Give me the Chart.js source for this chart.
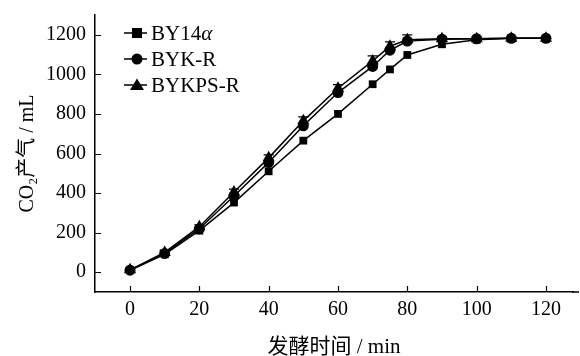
<!DOCTYPE html>
<html>
<head>
<meta charset="utf-8">
<script src="https://cdn.jsdelivr.net/npm/chart.js@4"></script>
<style>
  html, body { margin: 0; padding: 0; background: #fff; }
  #wrap { width: 580px; height: 356px; }
</style>
</head>
<body>
<div id="wrap"><canvas id="co2Chart" width="580" height="356"></canvas></div>
<script>
// 发酵时间 (min)
const tiempos = [0, 10, 20, 30, 40, 50, 60, 70, 75, 80, 90, 100, 110, 120];
const by14a   = [10, 90, 210, 352, 510, 665, 800, 950, 1025, 1098, 1152, 1175, 1182, 1182];
const bykR    = [10, 95, 220, 385, 555, 740, 908, 1040, 1122, 1168, 1178, 1180, 1182, 1182];
const bykpsR  = [12, 100, 230, 405, 578, 765, 930, 1068, 1142, 1175, 1180, 1180, 1182, 1182];
// error bars (±)
const errBykpsR = [0, 12, 10, 15, 15, 20, 18, 25, 22, 25, 10, 8, 8, 8];
const xTicks = [0, 20, 40, 60, 80, 100, 120];
const yTicks = [0, 200, 400, 600, 800, 1000, 1200];
const nombres = ['BY14\u03b1', 'BYK-R', 'BYKPS-R'];
const estilos = ['rect', 'circle', 'triangle'];

const fuente = '"Liberation Serif", "Times New Roman", "Noto Sans CJK SC", serif';

function puntos(arr) {
    return tiempos.map((t, i) => ({ x: t, y: arr[i] }));
}

const marcasPlugin = {
    id: 'marcas',
    afterDraw(chart) {
        const ctx = chart.ctx;
        const xs = chart.scales.x, ys = chart.scales.y;
        const area = chart.chartArea;
        ctx.save();
        ctx.strokeStyle = '#000';

        // axis line runs to the right edge
        ctx.lineWidth = 1.5;
        ctx.beginPath();
        ctx.moveTo(area.right - 1, area.bottom);
        ctx.lineTo(chart.width - 1, area.bottom);
        ctx.stroke();

        // inward ticks
        ctx.lineWidth = 1.2;
        ctx.beginPath();
        xTicks.forEach(v => {
            const px = Math.round(xs.getPixelForValue(v)) + 0.5;
            ctx.moveTo(px, area.bottom);
            ctx.lineTo(px, area.bottom - 6);
        });
        yTicks.forEach(v => {
            const py = Math.round(ys.getPixelForValue(v)) + 0.5;
            ctx.moveTo(area.left, py);
            ctx.lineTo(area.left + 6, py);
        });
        ctx.stroke();

        // error bars for BYKPS-R
        ctx.beginPath();
        tiempos.forEach((t, i) => {
            const e = errBykpsR[i];
            if (!e) return;
            const px = xs.getPixelForValue(t);
            const top = ys.getPixelForValue(bykpsR[i] + e);
            const mid = ys.getPixelForValue(bykpsR[i]);
            ctx.moveTo(px, mid);
            ctx.lineTo(px, top);
            ctx.moveTo(px - 5, top);
            ctx.lineTo(px + 5, top);
        });
        ctx.stroke();

        // legend
        ctx.font = '21px ' + fuente;
        ctx.fillStyle = '#000';
        ctx.textBaseline = 'middle';
        const lx = 124, ly0 = 33, paso = 26;
        nombres.forEach((n, i) => {
            const y = ly0 + i * paso;
            ctx.beginPath();
            ctx.lineWidth = 1.5;
            ctx.moveTo(lx, y);
            ctx.lineTo(lx + 23, y);
            ctx.stroke();
            ctx.beginPath();
            const cx = lx + 13;
            if (estilos[i] === 'rect') {
                ctx.fillRect(cx - 5, y - 5, 10, 10);
            } else if (estilos[i] === 'circle') {
                ctx.arc(cx, y, 5.5, 0, Math.PI * 2);
                ctx.fill();
            } else {
                ctx.moveTo(cx, y - 6.5);
                ctx.lineTo(cx + 7, y + 5);
                ctx.lineTo(cx - 7, y + 5);
                ctx.closePath();
                ctx.fill();
            }
            if (i === 0) {
                ctx.fillText('BY14', lx + 27, y + 1);
                const w = ctx.measureText('BY14').width;
                ctx.font = 'italic 21px ' + fuente;
                ctx.fillText('\u03b1', lx + 27 + w, y + 1);
                ctx.font = '21px ' + fuente;
            } else {
                ctx.fillText(n, lx + 27, y + 1);
            }
        });
        ctx.restore();
    }
};

const ctx = document.getElementById('co2Chart').getContext('2d');
new Chart(ctx, {
    type: 'line',
    data: {
        datasets: [
            { label: nombres[0], data: puntos(by14a), pointStyle: 'rect', pointRadius: 5.5 },
            { label: nombres[1], data: puntos(bykR), pointStyle: 'circle', pointRadius: 5.5 },
            { label: nombres[2], data: puntos(bykpsR), pointStyle: 'triangle', pointRadius: 7 }
        ].map(d => Object.assign(d, {
            borderColor: '#000',
            backgroundColor: '#000',
            pointBackgroundColor: '#000',
            pointBorderColor: '#000',
            pointBorderWidth: 0,
            borderWidth: 1.5,
            tension: 0,
            fill: false
        }))
    },
    options: {
        responsive: false,
        animation: false,
        layout: { padding: { top: 15, right: 1, left: 0, bottom: 0 } },
        plugins: {
            legend: { display: false },
            tooltip: { enabled: false }
        },
        scales: {
            x: {
                type: 'linear',
                min: -10.1,
                max: 127.8,
                afterBuildTicks: s => { s.ticks = xTicks.map(v => ({ value: v })); },
                afterFit: s => { s.height = 64; s.paddingLeft = 0; s.paddingRight = 0; },
                grid: { display: false, drawTicks: false },
                border: { display: true, color: '#000', width: 1.5 },
                ticks: { color: '#000', font: { family: fuente, size: 20 }, padding: 6, maxRotation: 0, callback: v => String(v) },
                title: {
                    display: true,
                    text: '发酵时间 / min',
                    color: '#000',
                    font: { family: fuente, size: 21, lineHeight: 1 },
                    padding: { top: -2, bottom: -2 }
                }
            },
            y: {
                min: -100,
                max: 1300,
                afterBuildTicks: s => { s.ticks = yTicks.map(v => ({ value: v })); },
                afterFit: s => { s.width = 95; s.paddingTop = 0; s.paddingBottom = 0; },
                grid: { display: false, drawTicks: false },
                border: { display: true, color: '#000', width: 1.5 },
                ticks: { color: '#000', font: { family: fuente, size: 20 }, padding: 9, callback: v => String(v) },
                title: {
                    display: true,
                    text: 'CO\u2082产气 / mL',
                    color: '#000',
                    font: { family: fuente, size: 20 },
                    padding: { top: 16, bottom: 0 }
                }
            }
        }
    },
    plugins: [marcasPlugin]
});
</script>
</body>
</html>
